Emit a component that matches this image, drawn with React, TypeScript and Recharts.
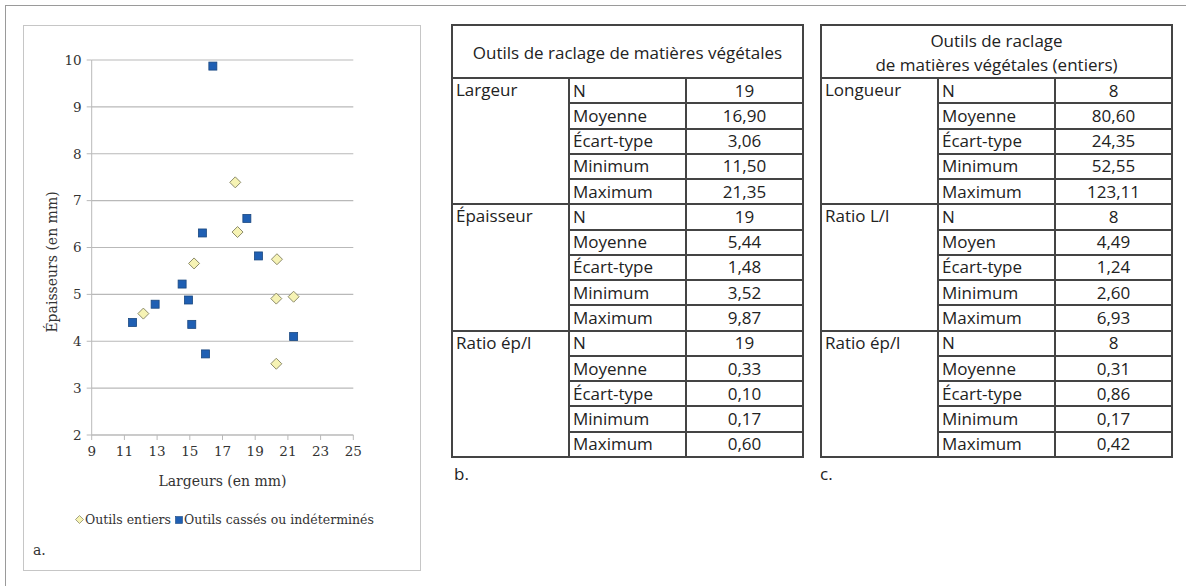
import React from 'react';
import { ScatterChart, Scatter, XAxis, YAxis, CartesianGrid, Legend } from 'recharts';

// scatter: largeur (x) / épaisseur (y), mm
const entiersX = [17.78, 17.92, 15.26, 20.33, 20.29, 21.35, 12.16, 20.29];
const entiersY = [7.39, 6.33, 5.66, 5.75, 4.91, 4.95, 4.59, 3.52];
const cassesX = [16.41, 18.49, 15.77, 19.2, 14.53, 14.92, 12.88, 11.5, 15.12, 21.35, 15.96];
const cassesY = [9.87, 6.62, 6.31, 5.82, 5.22, 4.88, 4.79, 4.4, 4.36, 4.1, 3.73];
const xTicks = [9, 11, 13, 15, 17, 19, 21, 23, 25];
const yTicks = [2, 3, 4, 5, 6, 7, 8, 9, 10];

// tables
const statsLabels = ['N', 'Moyenne', 'Écart-type', 'Minimum', 'Maximum'];
const statsLabelsMoyen = ['N', 'Moyen', 'Écart-type', 'Minimum', 'Maximum'];
const largeurB = ['19', '16,90', '3,06', '11,50', '21,35'];
const epaisseurB = ['19', '5,44', '1,48', '3,52', '9,87'];
const ratioB = ['19', '0,33', '0,10', '0,17', '0,60'];
const longueurC = ['8', '80,60', '24,35', '52,55', '123,11'];
const ratioLlC = ['8', '4,49', '1,24', '2,60', '6,93'];
const ratioEpC = ['8', '0,31', '0,86', '0,17', '0,42'];

const entiers = entiersX.map((x, i) => ({ x, y: entiersY[i] }));
const casses = cassesX.map((x, i) => ({ x, y: cassesY[i] }));

const SERIF = '"DejaVu Serif", serif';
const SANS = '"Open Sans", "Noto Sans", sans-serif';
const LINE = '2px solid #444';

const Diamond = (props: any) => {
  const { cx, cy } = props;
  const r = 5.5;
  return (
    <polygon
      points={`${cx},${cy - r} ${cx + r},${cy} ${cx},${cy + r} ${cx - r},${cy}`}
      fill="#f6f3b4"
      stroke="#8d8c6c"
      strokeWidth={1}
    />
  );
};

const Square = (props: any) => {
  const { cx, cy } = props;
  return <rect x={cx - 4} y={cy - 4} width={8} height={8} fill="#1f5fb3" stroke="#1a477f" strokeWidth={0.8} />;
};

const LegendBox = () => (
  <div style={{ fontFamily: SERIF, fontSize: 12.5, color: '#333', whiteSpace: 'nowrap', display: 'flex', alignItems: 'center' }}>
    <svg width={9} height={9} style={{ marginRight: 1 }}>
      <polygon points="4.5,0.5 8.5,4.5 4.5,8.5 0.5,4.5" fill="#f6f3b4" stroke="#8d8c6c" strokeWidth={0.8} />
    </svg>
    <span style={{ marginRight: 4 }}>Outils entiers</span>
    <svg width={8} height={8} style={{ marginRight: 1 }}>
      <rect x={0.5} y={0.5} width={7} height={7} fill="#1f5fb3" stroke="#1a477f" strokeWidth={0.6} />
    </svg>
    <span>Outils cassés ou indéterminés</span>
  </div>
);

const YTitle = () => (
  <text
    x={52}
    y={262}
    transform="rotate(-90 52 262)"
    textAnchor="middle"
    dominantBaseline="central"
    fill="#333"
    fontSize={14}
    fontFamily={SERIF}
  >
    Épaisseurs (en mm)
  </text>
);

function StatTable({ title, groups, left, headPad }: {
  title: React.ReactNode;
  groups: { name: string; labels: string[]; values: string[] }[];
  left: number;
  headPad: number;
}) {
  const cell: React.CSSProperties = { border: LINE, padding: '0 3px', height: 23.27, lineHeight: '22px', whiteSpace: 'nowrap' };
  return (
    <table
      style={{
        position: 'absolute', left, top: 24, width: 351, borderCollapse: 'collapse', tableLayout: 'fixed',
        fontFamily: SANS, fontSize: 17, color: '#222',
      }}
    >
      <colgroup>
        <col style={{ width: 117 }} />
        <col style={{ width: 117 }} />
        <col style={{ width: 117 }} />
      </colgroup>
      <tbody>
        <tr>
          <td
            colSpan={3}
            style={{ border: LINE, textAlign: 'center', verticalAlign: 'top', lineHeight: '24px', padding: `${headPad}px 0 0 0`, height: 51 - headPad, whiteSpace: 'nowrap' }}
          >
            {title}
          </td>
        </tr>
        {groups.map((g) =>
          g.labels.map((lab, i) => (
            <tr key={g.name + lab}>
              {i === 0 && (
                <td rowSpan={5} style={{ ...cell, verticalAlign: 'top' }}>{g.name}</td>
              )}
              <td style={cell}>{lab}</td>
              <td style={{ ...cell, textAlign: 'center' }}>{g.values[i]}</td>
            </tr>
          ))
        )}
      </tbody>
    </table>
  );
}

export default function App() {
  return (
    <div style={{ position: 'absolute', left: 0, top: 0, width: 1186, height: 586, background: '#fff', overflow: 'hidden' }}>
      <div style={{ position: 'absolute', left: 5, top: 5, width: 1200, height: 600, border: '1px solid #9a9a9a' }} />
      <div style={{ position: 'absolute', left: 23, top: 25, width: 396, height: 544, border: '1.5px solid #c6c6c6' }} />

      <div style={{ position: 'absolute', left: 0, top: 0 }}>
        <ScatterChart width={420} height={575} margin={{ top: 60, right: 66.7, left: 61.7, bottom: 89 }}>
          <CartesianGrid vertical={false} stroke="#b9b9b9" strokeWidth={1.2} />
          <XAxis
            type="number"
            dataKey="x"
            domain={[9, 25]}
            ticks={xTicks}
            interval={0}
            height={51}
            stroke="#b9b9b9"
            tickSize={5}
            tickMargin={6}
            tick={{ fill: '#333', fontSize: 13.5, fontFamily: SERIF }}
            label={{ value: 'Largeurs (en mm)', position: 'insideBottom', offset: 0, fill: '#333', fontSize: 14, fontFamily: SERIF }}
          />
          <YAxis
            type="number"
            dataKey="y"
            domain={[2, 10]}
            ticks={yTicks}
            interval={0}
            width={30}
            stroke="#b9b9b9"
            tickSize={5}
            tickMargin={5}
            tick={{ fill: '#333', fontSize: 13.5, fontFamily: SERIF }}
            label={{ content: () => <YTitle /> }}
          />
          <Legend
            layout="horizontal"
            verticalAlign="middle"
            align="center"
            content={() => <LegendBox />}
            wrapperStyle={{ position: 'absolute', left: 75, top: 512, width: 340, bottom: 'auto' }}
          />
          <Scatter name="Outils entiers" data={entiers} shape={Diamond} isAnimationActive={false} />
          <Scatter name="Outils cassés ou indéterminés" data={casses} shape={Square} isAnimationActive={false} />
        </ScatterChart>
      </div>

      <div style={{ position: 'absolute', left: 33, top: 542, fontFamily: SERIF, fontSize: 14, color: '#333' }}>a.</div>

      <StatTable
        left={451}
        headPad={15}
        title="Outils de raclage de matières végétales"
        groups={[
          { name: 'Largeur', labels: statsLabels, values: largeurB },
          { name: 'Épaisseur', labels: statsLabels, values: epaisseurB },
          { name: 'Ratio ép/l', labels: statsLabels, values: ratioB },
        ]}
      />
      <div style={{ position: 'absolute', left: 454, top: 462, fontFamily: SANS, fontSize: 17, color: '#222' }}>b.</div>

      <StatTable
        left={820}
        headPad={3}
        title={<>Outils de raclage<br />de matières végétales (entiers)</>}
        groups={[
          { name: 'Longueur', labels: statsLabels, values: longueurC },
          { name: 'Ratio L/l', labels: statsLabelsMoyen, values: ratioLlC },
          { name: 'Ratio ép/l', labels: statsLabels, values: ratioEpC },
        ]}
      />
      <div style={{ position: 'absolute', left: 820, top: 462, fontFamily: SANS, fontSize: 17, color: '#222' }}>c.</div>
    </div>
  );
}
